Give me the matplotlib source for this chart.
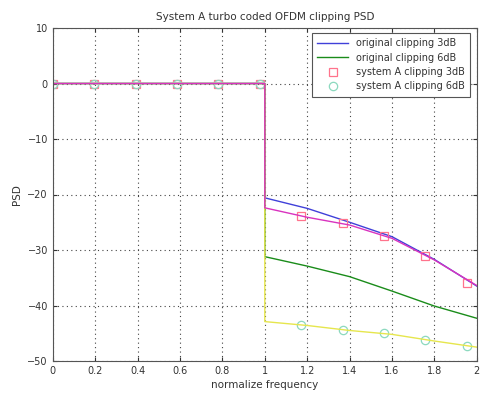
import matplotlib
matplotlib.use("Agg")
import matplotlib.pyplot as plt

# Curve samples (normalized frequency)
freq = [0.0, 1.0, 1.0, 1.2, 1.4, 1.6, 1.8, 2.0]
orig_3db = [0.0, 0.0, -20.6, -22.5, -25.0, -27.6, -31.7, -36.5]
orig_6db = [0.0, 0.0, -31.2, -32.9, -34.8, -37.4, -40.1, -42.3]
sysA_3db_line = [0.0, 0.0, -22.4, -24.1, -25.5, -27.9, -31.8, -36.4]
sysA_6db_line = [0.0, 0.0, -42.9, -43.6, -44.5, -45.2, -46.4, -47.5]

# Marker samples
mk_freq = [0.0, 0.195, 0.391, 0.586, 0.781, 0.977, 1.172, 1.367, 1.563, 1.758, 1.953]
sysA_3db_mk = [0.0, 0.0, 0.0, 0.0, 0.0, 0.0, -23.9, -25.2, -27.4, -31.1, -35.9]
sysA_6db_mk = [0.0, 0.0, 0.0, 0.0, 0.0, 0.0, -43.5, -44.4, -45.0, -46.2, -47.3]

xticks = [0, 0.2, 0.4, 0.6, 0.8, 1, 1.2, 1.4, 1.6, 1.8, 2]
xticklabels = ["0", "0.2", "0.4", "0.6", "0.8", "1", "1.2", "1.4", "1.6", "1.8", "2"]
yticks = [-50, -40, -30, -20, -10, 0, 10]

plt.rcParams['font.family'] = ['DejaVu Sans']
fig = plt.figure(figsize=(4.89, 4.0), dpi=100)
ax = fig.add_axes([0.108, 0.0975, 0.867, 0.8325])

l1, = ax.plot(freq, orig_3db, color=(0.25, 0.25, 0.85), lw=1.0, label="original clipping 3dB")
l2, = ax.plot(freq, orig_6db, color=(0.1, 0.55, 0.1), lw=1.0, label="original clipping 6dB")
m1, = ax.plot(mk_freq, sysA_3db_mk, ls='none', marker='s', ms=6, mfc='none',
              mec=(1.0, 0.45, 0.55), mew=0.9, label="system A clipping 3dB")
m2, = ax.plot(mk_freq, sysA_6db_mk, ls='none', marker='o', ms=6, mfc='none',
              mec=(0.55, 0.85, 0.75), mew=0.9, label="system A clipping 6dB")
ax.plot(freq, sysA_6db_line, color=(0.9, 0.9, 0.3), lw=1.0)
ax.plot(freq, sysA_3db_line, color=(0.85, 0.2, 0.75), lw=1.0)

ax.set_xlim(0, 2)
ax.set_ylim(-50, 10)
ax.set_xticks(xticks)
ax.set_xticklabels(xticklabels)
ax.set_yticks(yticks)
ax.tick_params(direction='in', top=True, right=True, labelsize=7, length=3, colors='#333333')
ax.grid(True, ls=(0, (1, 3)), color='#444444', lw=0.8)
for s in ax.spines.values():
    s.set_color('#555555')

ax.set_title("System A turbo coded OFDM clipping PSD", fontsize=7.5, color='#333333', pad=6)
ax.set_xlabel("normalize frequency", fontsize=7.5, color='#333333', labelpad=3)
ax.set_ylabel("PSD", fontsize=7.5, color='#333333', labelpad=4)

leg = ax.legend(handles=[l1, l2, m1, m2], loc='upper right', fontsize=7, frameon=True,
                fancybox=False, edgecolor='#555555', framealpha=1.0,
                bbox_to_anchor=(0.985, 0.985), borderaxespad=0.0,
                handlelength=3.2, handletextpad=0.8, labelspacing=0.45, borderpad=0.55)
leg.get_frame().set_linewidth(0.8)
for t in leg.get_texts():
    t.set_color('#333333')

fig.savefig("out.png", dpi=100)
